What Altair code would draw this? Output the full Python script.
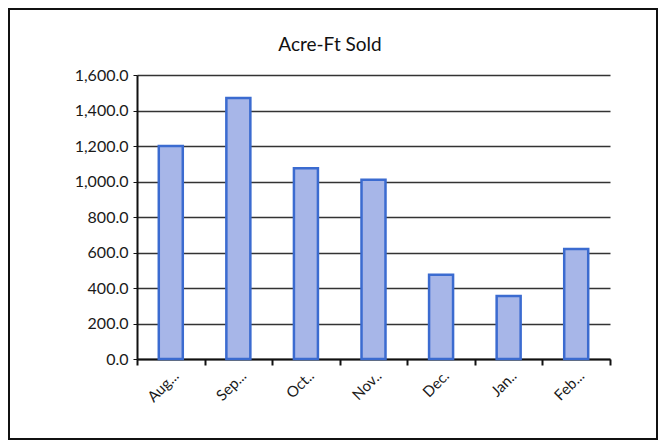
import altair as alt
import pandas as pd

months = ["Aug...", "Sep...", "Oct..", "Nov..", "Dec.", "Jan..", "Feb..."]
acre_ft = [1200, 1470, 1075, 1010, 475, 355, 620]
title_text = "Acre-Ft Sold"

df = pd.DataFrame({"month": months, "value": acre_ft})

W, H = 473, 284
PL, PT, PR, PB = 129, 67, 48, 81

bars = alt.Chart(df).mark_bar(
    size=24, color="#a7b6e8", stroke="#3b6bd0", strokeWidth=2.5
).encode(
    x=alt.X("month:N", sort=months, title=None,
            scale=alt.Scale(paddingInner=0, paddingOuter=0),
            axis=alt.Axis(labelAngle=-45, labelAlign="right", labelBaseline="top",
                          tickBand="extent", ticks=True, tickSize=6, tickColor="#111",
                          tickWidth=2, domainColor="#111", domainWidth=2,
                          labelFont="Lato", labelFontSize=15, labelColor="#1a1a1a",
                          labelPadding=3, grid=False)),
    y=alt.Y("value:Q", title=None,
            scale=alt.Scale(domain=[0, 1600], nice=False),
            axis=alt.Axis(values=[0, 200, 400, 600, 800, 1000, 1200, 1400, 1600],
                          format=",.1f", grid=True, gridColor="#333", gridWidth=1.6,
                          domainColor="#111", domainWidth=2, tickColor="#111",
                          tickSize=4, labelFont="Lato", labelFontSize=16,
                          labelColor="#1a1a1a", labelPadding=5)),
)

base1 = alt.Chart(pd.DataFrame({"t": [title_text]}))

frame = base1.mark_rect(
    fill=None, stroke="#111", strokeWidth=2
).encode(
    x=alt.value(-PL + 1), x2=alt.value(W + PR - 1),
    y=alt.value(-PT + 1), y2=alt.value(H + PB - 1),
)

title = base1.mark_text(
    font="Lato", fontSize=19, color="#111", align="center", baseline="middle"
).encode(
    text="t:N", x=alt.value(193), y=alt.value(-30),
)

chart = alt.layer(frame, bars, title).properties(
    width=W, height=H,
    autosize=alt.AutoSizeParams(type="none"),
    padding={"left": PL, "top": PT, "right": PR, "bottom": PB},
).configure_view(stroke=None)

chart.save("out.html", embed_options={"renderer": "svg", "actions": False})
